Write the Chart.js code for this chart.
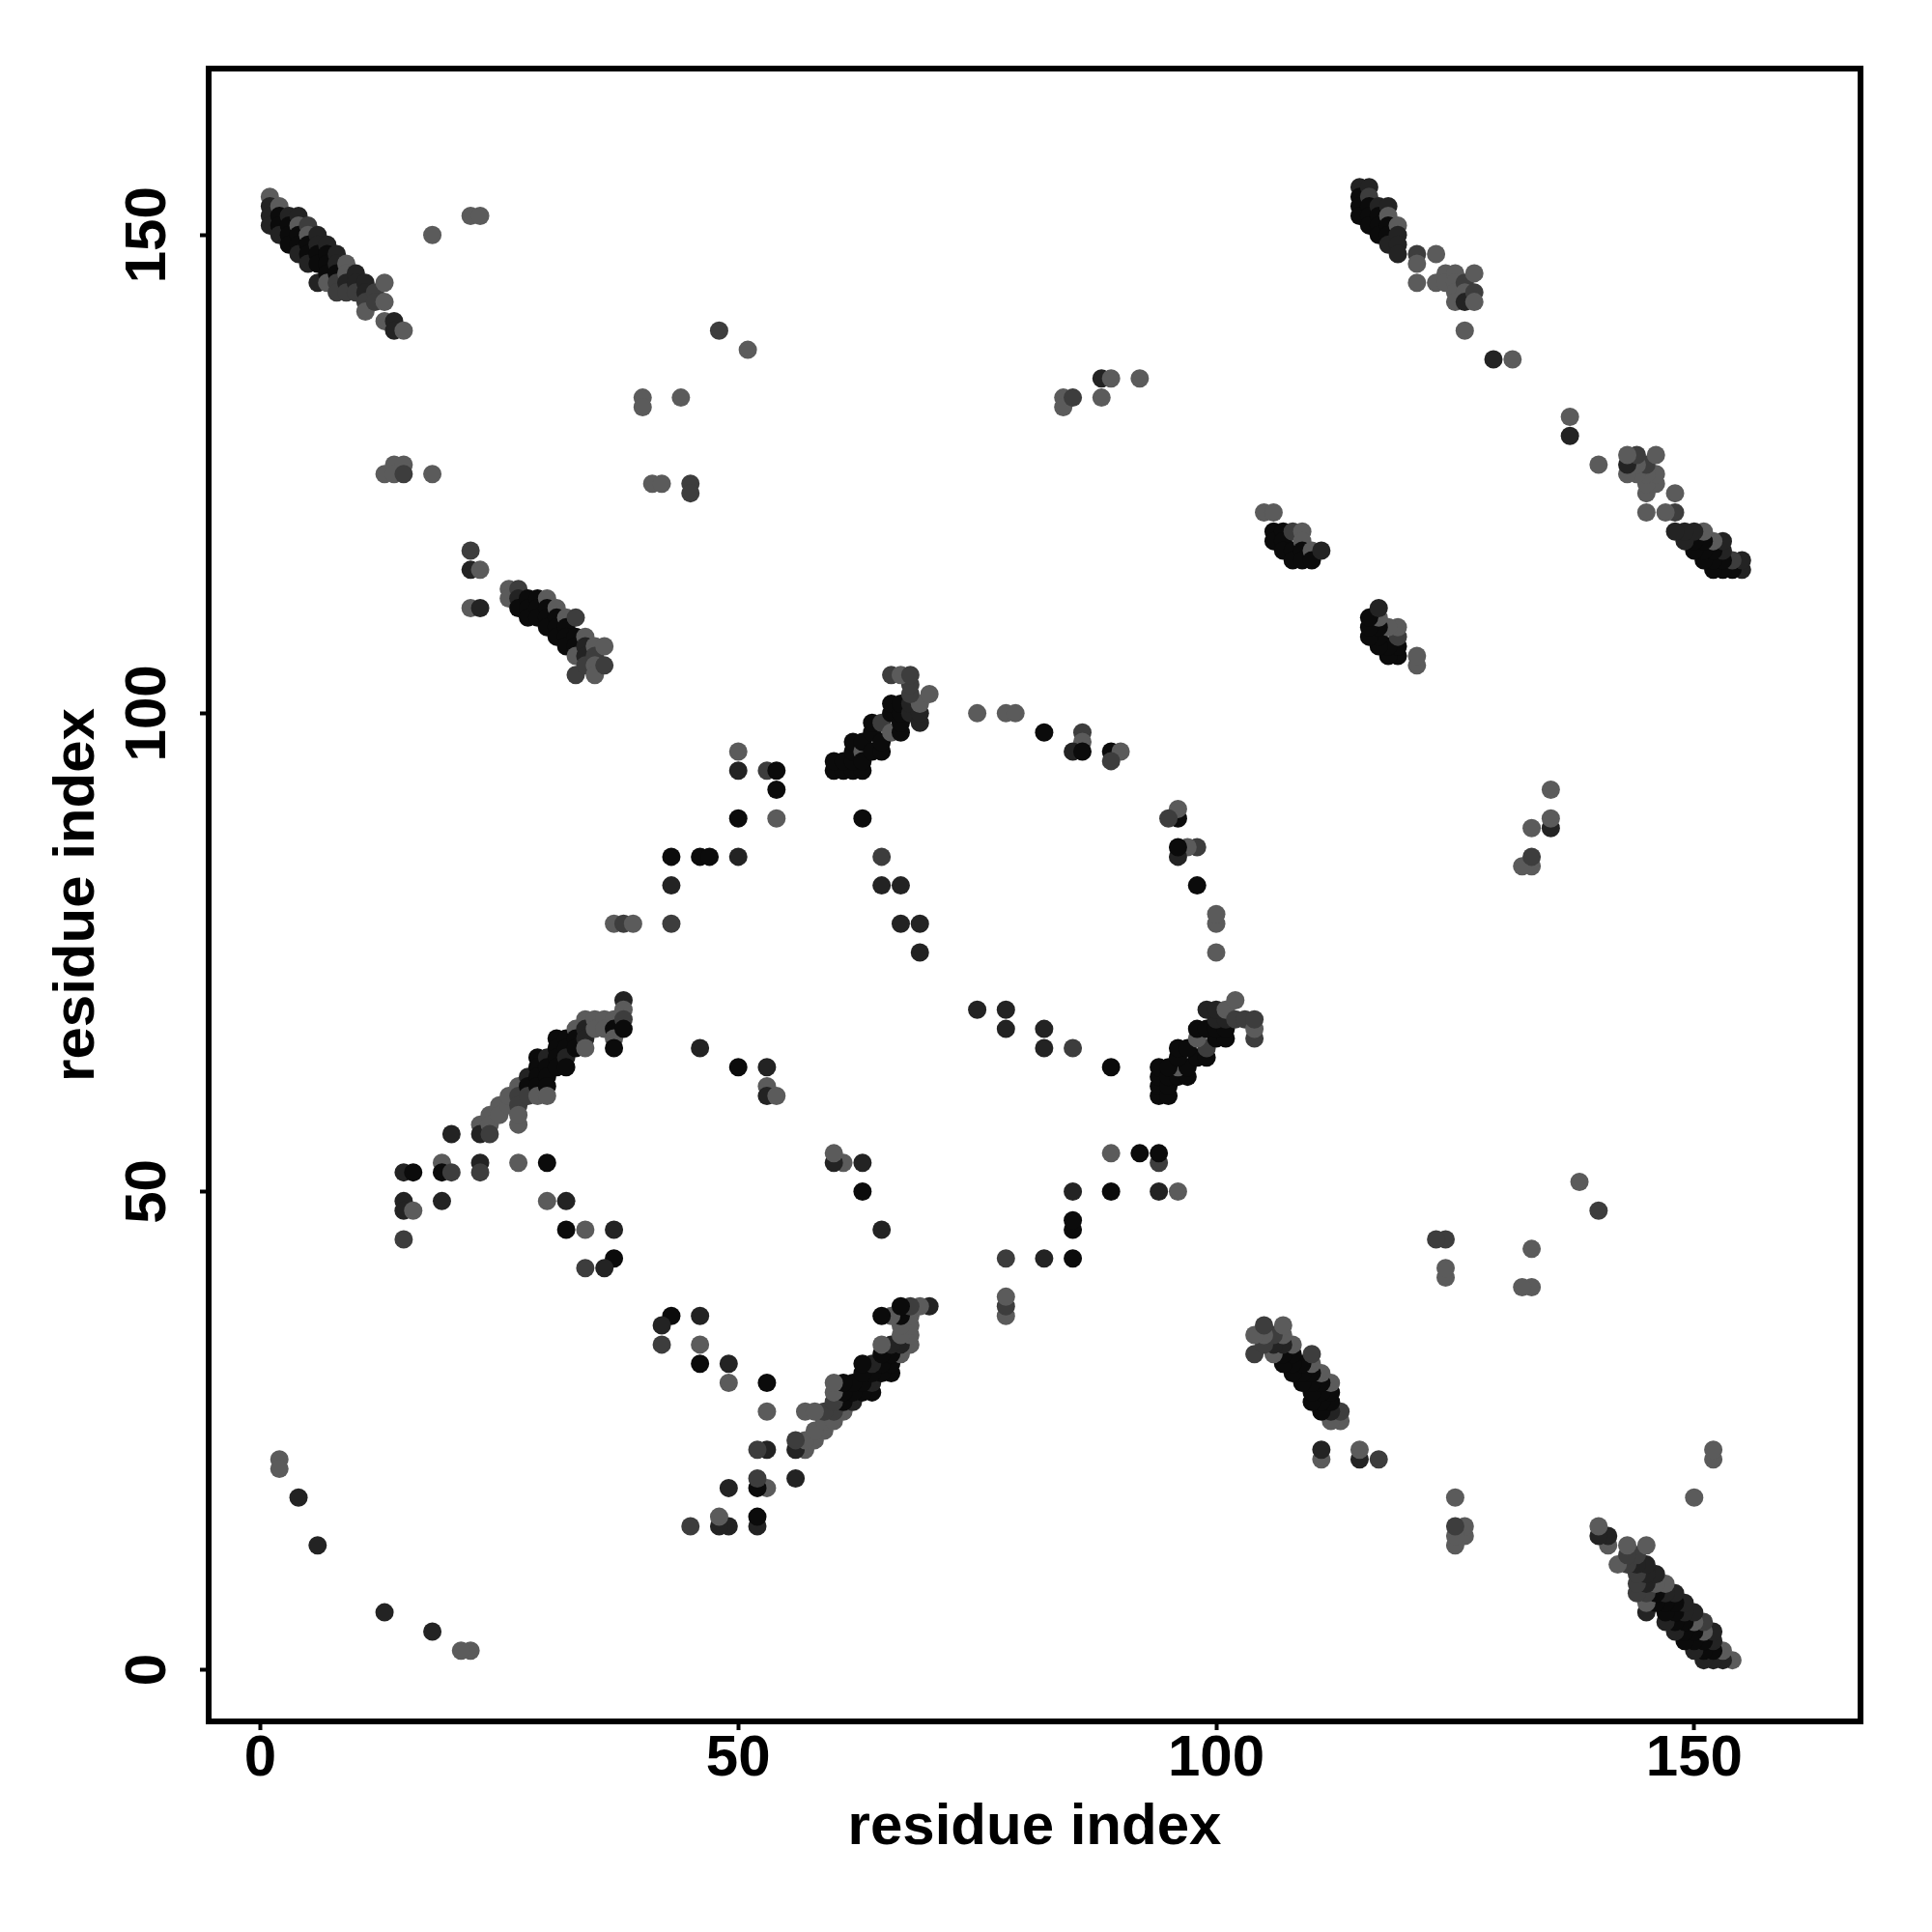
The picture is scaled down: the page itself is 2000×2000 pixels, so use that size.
<!DOCTYPE html>
<html>
<head>
<meta charset="utf-8">
<script src="https://cdn.jsdelivr.net/npm/chart.js@4.4.1/dist/chart.umd.min.js"></script>
<style>
html,body{margin:0;padding:0;background:#fff;}
canvas{display:block;}
</style>
</head>
<body>
<canvas id="c" width="2000" height="2000"></canvas>
<script>
// Contacts (i < j); each contact is drawn at (i,j) and (j,i) as in a symmetric contact map.
const contactI = [
 1,1,1,1, 2,2,2,2, 3,3,3,3, 4,4,4,4,4, 5,5,5,5,5, 6,6,6,6,6, 7,7,7,7,7, 8,8,8,8,8, 9,9,9,9, 10,10,10, 11,11,11,11, 12,12, 13,13,13, 14,14, 15,
 2,2,4,6, 18,22,23, 48,51, 40,40,44, 41,42,45,45, 13,14,15,14,15,18, 22,22,23,22,23, 84,84,85,88,88,89,92,
 26,26,27,27,27,28,28,28,29,29,29,30,30,30,30,31,31,31,31,32,32,32,32,33,33,33,33,33,34,34,34,34,35,35,35,35,36,36,
 115,115,115,115, 116,116,116,116,116, 117,117,117,117, 118,118,118,118,118, 119,119,119,119, 121,121,121, 123,123, 124,124, 125,125,125,125, 126,126,126,126, 127,127,127, 129,131,
 105,106,106,106,107,107,107,108,108,108,109,109,109,109,110,110,111,
 43,43,37,38,39,43, 50,50,53,54,54,50,54,46,47,50,
 60,61,62,63,60,61,62,62,62,63,63,63,64,64,64,65,65,65,66,66,66,67,67,67,67,68,68,69,69,69,68,68,70,66,67,68,
 75,78,79,82,86,86,85,86,89,90,89, 63,65,65,67,67,69,69,
 46,50,53,53,53,54,
 15,16,19,19,20,23,23,27,30,15,15,16,19,30,32,15,32,34,37,37,36,34,20,
 23,23,24,24,24,25,25,26,26,27,27,27,27,27,28,28,28,29,29,29,29,29,30,30,30,30,30,31,31,31,31,32,32,32,32,33,33,33,34,34,34,34,35,35,36,36,37,37,37,37,38,38,38,38
];
const contactJ = [
 154,153,152,151, 153,152,151,150, 152,151,150,149, 152,151,150,149,148, 151,150,149,148,147, 150,149,148,147,145, 149,148,147,146,145, 148,147,146,145,144, 147,146,145,144, 146,145,144, 145,144,143,142, 144,143, 145,143,141, 141,140, 140,
 22,21,18,13, 150,152,152, 140,138, 133,132,133, 124,124,124,123, 125,126,126,125,125,125, 117,115,115,111,111, 133,132,133,133,135,135,135,
 113,112,113,112,111,112,111,110,112,111,110,112,111,110,109,111,110,109,108,110,109,108,107,110,108,107,106,104,108,107,106,105,107,106,105,104,107,105,
 155,154,153,152, 155,154,153,152,151, 153,152,151,150, 153,152,151,150,149, 151,150,149,148, 148,147,145, 148,145, 146,145, 146,145,144,143, 145,144,143,140, 146,144,143, 137,137,
 121,121,119,118,119,118,117,119,117,116,119,118,117,116,117,116,117,
 85,82,78,78,78,78, 96,94,94,94,92,89,89,85,85,85,
 94,94,94,94,95,95,95,96,97,96,95,97,96,98,99,96,97,99,98,100,101,98,99,100,101,100,101,99,100,101,102,103,102,104,104,104,
 100,100,100,98,98,97,96,96,96,96,95, 89,85,82,82,78,78,75,
 65,63,63,61,60,60,
 52,52,53,52,52,53,52,53,53,49,48,48,49,49,49,45,46,46,46,43,42,42,56,
 57,56,58,57,56,59,58,59,60,61,60,59,57,58,62,61,60,64,63,62,61,60,64,63,62,61,60,66,65,64,63,66,65,64,63,67,66,65,68,67,66,65,68,67,68,67,68,67,66,65,70,69,68,67
];
// 0 = black, 1 = dark, 2 = dark grey, 3 = grey
const contactShade = [
 3,1,1,1, 3,0,0,1, 1,0,0,0, 1,3,0,0,1, 2,3,0,0,1, 1,1,0,0,1, 1,0,0,0,3, 1,1,0,2,2, 3,3,1,2, 1,1,2, 1,1,2,3, 2,2, 3,3,3, 1,1, 3,
 3,3,1,1, 3,3,3, 2,3, 3,3,3, 3,3,2,2, 3,3,3,3,2,3, 2,1,3,3,1, 3,3,2,3,1,3,3,
 3,3,2,1,0,0,0,0,0,0,0,3,0,0,0,3,0,0,0,3,0,0,0,2,0,0,3,2,3,1,1,2,3,2,3,3,3,2,
 1,0,0,0, 1,2,0,0,0, 1,0,0,0, 1,3,0,0,1, 3,1,1,1, 2,3,3, 3,3, 3,3, 3,3,3,3, 2,3,1,3, 3,2,3, 1,3,
 3,3,0,0,0,0,0,2,0,0,3,3,0,0,3,0,1,
 0,1,3,2,3,2, 3,1,2,0,0,0,3,0,0,1,
 0,0,0,0,0,0,0,0,0,3,0,0,0,0,0,0,0,2,3,0,0,0,0,0,0,1,1,1,1,3,2,2,3,2,3,2,
 3,3,3,0,2,3,1,0,0,3,2, 0,2,1,1,1,1,1,
 1,0,1,3,1,3,
 1,0,3,0,2,1,2,3,0,1,1,3,1,3,1,2,0,3,1,0,1,2,1,
 3,1,3,3,2,3,3,3,3,3,2,2,3,3,1,0,2,0,0,0,0,3,1,0,0,0,3,0,0,0,0,0,0,1,0,3,0,0,3,1,1,3,3,3,3,3,3,0,3,0,1,3,2,0
];
const shadeColors = ['#0b0b0b', '#232323', '#3d3d3d', '#5b5b5b'];
const tickValues = [0, 50, 100, 150];
const xTitle = 'residue index';
const yTitle = 'residue index';
const axisMin = -5.4, axisMax = 167.4;

const points = [];
const colors = [];
for (let k = 0; k < contactI.length; k++) {
  const col = shadeColors[contactShade[k]];
  points.push({x: contactI[k], y: contactJ[k]}); colors.push(col);
  points.push({x: contactJ[k], y: contactI[k]}); colors.push(col);
}

const framePlugin = {
  id: 'frame',
  afterDraw(chart) {
    const {ctx, chartArea: a} = chart;
    ctx.save();
    ctx.strokeStyle = '#000';
    ctx.lineWidth = 6;
    ctx.strokeRect(a.left, a.top, a.right - a.left, a.bottom - a.top);
    ctx.restore();
  }
};

const fontBold = {family: '"Liberation Sans", Arial, Helvetica, sans-serif', weight: 'bold', size: 60, lineHeight: 1};

new Chart(document.getElementById('c'), {
  type: 'scatter',
  data: {datasets: [{
    data: points,
    pointBackgroundColor: colors,
    pointBorderWidth: 0,
    pointRadius: 9.5,
    pointHoverRadius: 9.5
  }]},
  options: {
    responsive: false,
    animation: false,
    devicePixelRatio: 1,
    layout: {padding: {top: 71, right: 74, left: 0, bottom: 0}},
    plugins: {legend: {display: false}, tooltip: {enabled: false}},
    events: [],
    scales: {
      x: {
        type: 'linear', min: axisMin, max: axisMax,
        afterBuildTicks: s => { s.ticks = tickValues.map(v => ({value: v})); },
        afterFit: s => { s.height = 218; },
        border: {display: false},
        grid: {drawOnChartArea: false, drawTicks: true, tickLength: 9, tickWidth: 4, tickColor: '#000'},
        ticks: {color: '#000', font: fontBold, padding: 0, minRotation: 0, maxRotation: 0},
        title: {display: true, text: xTitle, color: '#000', font: fontBold, padding: {top: 0, bottom: 78}}
      },
      y: {
        type: 'linear', min: axisMin, max: axisMax,
        afterBuildTicks: s => { s.ticks = tickValues.map(v => ({value: v})); },
        afterFit: s => { s.width = 216; },
        border: {display: false},
        grid: {drawOnChartArea: false, drawTicks: true, tickLength: 9, tickWidth: 4, tickColor: '#000'},
        ticks: {color: '#000', font: fontBold, padding: 2, minRotation: 90, maxRotation: 90, crossAlign: 'center'},
        title: {display: true, text: yTitle, color: '#000', font: fontBold, padding: {top: 50, bottom: 0}}
      }
    }
  },
  plugins: [framePlugin]
});
</script>
</body>
</html>
